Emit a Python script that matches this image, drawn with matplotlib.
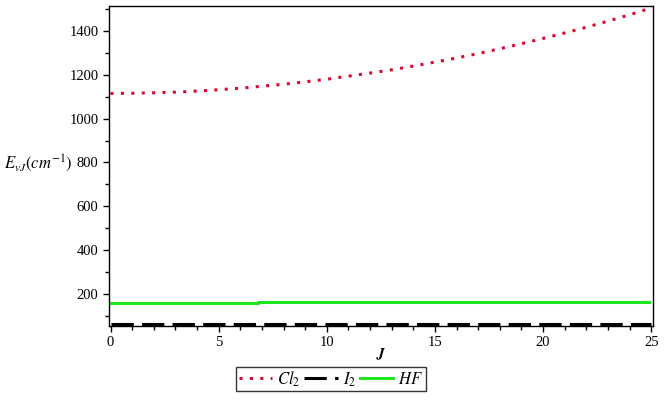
import matplotlib
matplotlib.use("Agg")
import matplotlib.pyplot as plt
from matplotlib.ticker import MultipleLocator

J = list(range(0, 26))
cl2 = [1115, 1116, 1118, 1121, 1126, 1132, 1139, 1148, 1157, 1168, 1180, 1194, 1208,
       1223, 1240, 1258, 1277, 1297, 1319, 1342, 1366, 1391, 1417, 1445, 1474, 1505]
i2_J = [0, 25]
i2 = [61, 61]
hf_J = [0, 6.8, 6.8, 24.9]
hf = [158, 158, 162, 162]

plt.rcParams['font.family'] = ['Liberation Serif', 'DejaVu Serif']
plt.rcParams['mathtext.fontset'] = 'stix'

fig = plt.figure(figsize=(6.64, 4.0), dpi=100)
ax = fig.add_axes([109/664, 1 - 326/400, (653-109)/664, (326-6)/400])

lw = 2.2
ax.plot(J, cl2, color='#dc0a30', lw=lw, dashes=(1, 2.4), label=r'$Cl_2$')
ax.plot(i2_J, i2, color='black', lw=lw, dashes=(7.3, 2.7), label=r'$I_2$')
ax.plot(hf_J, hf, color='#1ee61e', lw=lw, label=r'$HF$')

ax.set_xlim(-0.07, 25.08)
ax.set_ylim(54, 1514)
ax.xaxis.set_major_locator(MultipleLocator(5))
ax.xaxis.set_minor_locator(MultipleLocator(1))
ax.yaxis.set_minor_locator(MultipleLocator(100))
ax.set_yticks([200, 400, 600, 800, 1000, 1200, 1400])
ax.tick_params(which='both', direction='out', top=False, right=False, labelsize=10.5, width=1)
ax.tick_params(which='major', length=4)
ax.tick_params(which='minor', length=3)
for s in ax.spines.values():
    s.set_linewidth(1)

fig.text(38/664, 1 - 163/400, r'$\boldsymbol{E_{vJ}}(cm^{-1})$', fontsize=12,
         ha='center', va='center')
fig.text(381/664, 1 - 354/400, r'$\boldsymbol{J}$', fontsize=11, ha='center', va='center')

leg = ax.legend(loc='center', bbox_to_anchor=(331/664, 1 - 379/400),
                bbox_transform=fig.transFigure, ncol=3, frameon=True, fancybox=False,
                edgecolor='black', fontsize=12, handlelength=2.0, handletextpad=0.3,
                columnspacing=0.25, borderpad=0.15, borderaxespad=0)
leg.get_frame().set_linewidth(1)

fig.savefig('out.png', dpi=100)
